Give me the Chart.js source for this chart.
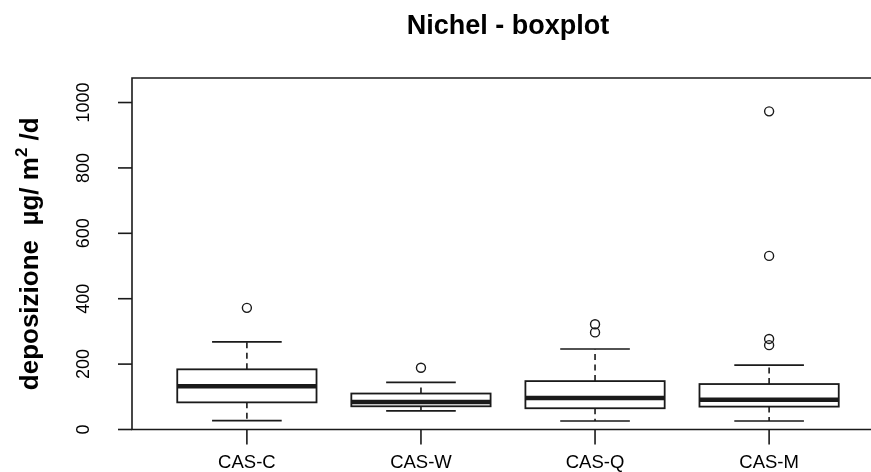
<!DOCTYPE html>
<html>
<head>
<meta charset="utf-8">
<script src="https://cdn.jsdelivr.net/npm/chart.js@4"></script>
<style>
  html, body { margin: 0; padding: 0; background: #fff; overflow: hidden; }
  #wrap { width: 910px; height: 472px; }
</style>
</head>
<body>
<div id="wrap"><canvas id="boxChart" width="910" height="472"></canvas></div>
<script>
// ===== NICKEL DEPOSITION BOXPLOT =====
const categories = ['CAS-C', 'CAS-W', 'CAS-Q', 'CAS-M'];
const whiskerLow = [27, 57, 26, 26];
const q1 = [83, 71, 65, 70];
const median = [132, 84, 96, 91];
const q3 = [184, 110, 148, 139];
const whiskerHigh = [268, 144, 246, 197];
const outliers = [[372], [189], [297, 322], [258, 277, 531, 973]];
const yTicks = [0, 200, 400, 600, 800, 1000];

const ink = '#1a1a1a';
const font = '"Liberation Sans", Arial, sans-serif';
const boxWidth = 0.8;     // in category units, like R's boxwex
const capWidth = 0.4;

// outlier points as {x, y} for the scatter dataset
const outlierPoints = [];
outliers.forEach((vals, i) => {
    vals.forEach(v => outlierPoints.push({ x: i + 1, y: v }));
});

const boxPlugin = {
    id: 'boxes',
    beforeDatasetsDraw(chart) {
        const { ctx, scales: { x, y } } = chart;
        const unit = x.getPixelForValue(2) - x.getPixelForValue(1);
        ctx.save();
        ctx.strokeStyle = ink;
        ctx.lineCap = 'butt';

        categories.forEach((c, i) => {
            const cx = x.getPixelForValue(i + 1);
            const hb = unit * boxWidth / 2;
            const hc = unit * capWidth / 2;
            const yLo = y.getPixelForValue(whiskerLow[i]);
            const yQ1 = y.getPixelForValue(q1[i]);
            const yMed = y.getPixelForValue(median[i]);
            const yQ3 = y.getPixelForValue(q3[i]);
            const yHi = y.getPixelForValue(whiskerHigh[i]);

            // dashed whiskers
            ctx.lineWidth = 1.6;
            ctx.setLineDash([6, 4.5]);
            ctx.beginPath();
            ctx.moveTo(cx, yQ3); ctx.lineTo(cx, yHi);
            ctx.moveTo(cx, yQ1); ctx.lineTo(cx, yLo);
            ctx.stroke();
            ctx.setLineDash([]);

            // staples
            ctx.beginPath();
            ctx.moveTo(cx - hc, yHi); ctx.lineTo(cx + hc, yHi);
            ctx.moveTo(cx - hc, yLo); ctx.lineTo(cx + hc, yLo);
            ctx.stroke();

            // box
            ctx.fillStyle = '#fff';
            ctx.fillRect(cx - hb, yQ3, hb * 2, yQ1 - yQ3);
            ctx.lineWidth = 1.8;
            ctx.strokeRect(cx - hb, yQ3, hb * 2, yQ1 - yQ3);

            // median
            ctx.lineWidth = 4.5;
            ctx.beginPath();
            ctx.moveTo(cx - hb, yMed); ctx.lineTo(cx + hb, yMed);
            ctx.stroke();
        });
        ctx.restore();
    },
    afterDraw(chart) {
        const { ctx, chartArea: a, scales: { x, y } } = chart;
        ctx.save();
        ctx.strokeStyle = ink;
        ctx.fillStyle = '#000';
        ctx.lineWidth = 1.6;

        // frame: top, left and bottom; the right side runs off the page
        ctx.beginPath();
        ctx.moveTo(a.right + 40, a.top);
        ctx.lineTo(a.left, a.top);
        ctx.lineTo(a.left, a.bottom);
        ctx.lineTo(a.right + 40, a.bottom);
        ctx.stroke();

        // y axis ticks and rotated labels
        ctx.font = '18px ' + font;
        ctx.textAlign = 'center';
        ctx.textBaseline = 'alphabetic';
        yTicks.forEach(t => {
            const py = y.getPixelForValue(t);
            ctx.beginPath();
            ctx.moveTo(a.left - 14, py); ctx.lineTo(a.left, py);
            ctx.stroke();
            ctx.save();
            ctx.translate(89, py);
            ctx.rotate(-Math.PI / 2);
            ctx.fillText(String(t), 0, 0);
            ctx.restore();
        });

        // x axis ticks and labels
        ctx.font = '18.5px ' + font;
        categories.forEach((c, i) => {
            const px = x.getPixelForValue(i + 1);
            ctx.beginPath();
            ctx.moveTo(px, a.bottom); ctx.lineTo(px, a.bottom + 15);
            ctx.stroke();
            ctx.fillText(c, px, 468);
        });

        // title
        ctx.font = 'bold 27px ' + font;
        ctx.fillText('Nichel - boxplot', (a.left + a.right) / 2, 34);

        // y axis title with superscript
        const main = 'bold 26px ' + font;
        const sup = 'bold 17px ' + font;
        const parts = [
            { t: 'deposizione  \u00b5g/ m', f: main, dy: 0 },
            { t: '2', f: sup, dy: -11 },
            { t: ' /d', f: main, dy: 0 }
        ];
        let total = 0;
        parts.forEach(p => { ctx.font = p.f; p.w = ctx.measureText(p.t).width; total += p.w; });
        ctx.translate(38, (a.top + a.bottom) / 2);
        ctx.rotate(-Math.PI / 2);
        ctx.textAlign = 'left';
        let pos = -total / 2;
        parts.forEach(p => {
            ctx.font = p.f;
            ctx.fillText(p.t, pos, p.dy);
            pos += p.w;
        });
        ctx.restore();
    }
};

new Chart(document.getElementById('boxChart'), {
    type: 'scatter',
    data: {
        datasets: [{
            label: 'outliers',
            data: outlierPoints,
            pointStyle: 'circle',
            pointRadius: 4.5,
            pointBorderWidth: 1.4,
            pointBorderColor: ink,
            pointBackgroundColor: 'rgba(255,255,255,0)'
        }]
    },
    options: {
        responsive: false,
        animation: false,
        layout: { padding: { left: 132, top: 78, right: 26, bottom: 42.5 } },
        plugins: {
            legend: { display: false },
            tooltip: { enabled: false },
            title: { display: false }
        },
        scales: {
            x: { type: 'linear', min: 0.34, max: 4.66, display: false },
            y: { type: 'linear', min: 0, max: 1075, display: false }
        }
    },
    plugins: [boxPlugin]
});
</script>
</body>
</html>
